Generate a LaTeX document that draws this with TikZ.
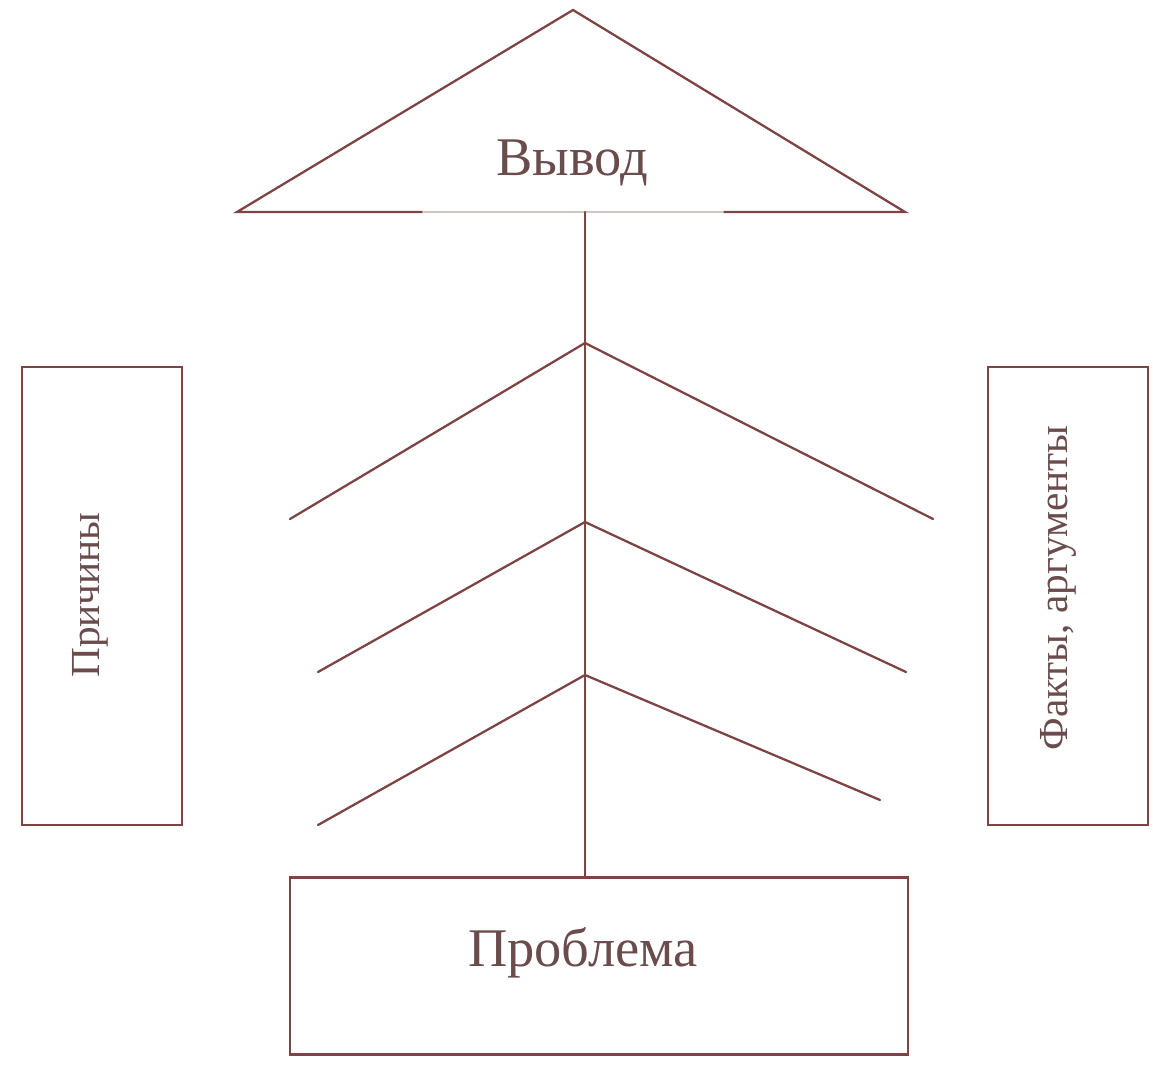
\documentclass[tikz,border=0pt]{standalone}
\usepackage{fontspec}
\setmainfont{Liberation Serif}
\usetikzlibrary{positioning}
\begin{document}
\begin{tikzpicture}[
    x=0.02cm, y=-0.02cm,
    every path/.style={line cap=round},
]
% ── Colours ──
\definecolor{edge}{HTML}{7E4444}
\definecolor{faint}{HTML}{CFC6C6}
\definecolor{textc}{HTML}{6A4C4C}

% ── Styles ──
\tikzset{
    frame/.style={draw=edge, line width=1.3pt, inner sep=0pt},
    label/.style={font=\fontsize{31}{36}\selectfont, text=textc},
    sidelabel/.style={font=\fontsize{23.5}{28}\selectfont, text=textc, rotate=90},
    stroke/.style={draw=edge, line width=1.3pt},
}

\useasboundingbox (0,0) rectangle (1153,1067);

% ── Conclusion triangle ──
\coordinate (apex) at (573,10);
\coordinate (baseL) at (237,212);
\coordinate (baseR) at (905,212);
\coordinate (gapL) at (423,212);
\coordinate (gapR) at (723,212);
\draw[stroke] (gapL) -- (baseL) -- (apex) -- (baseR) -- (gapR);
\draw[faint, line width=1.3pt] (gapL) -- (gapR);
\node[label] (concl) at (572,163) {Вывод};

% ── Boxes ──
\node[frame, minimum width=12.36cm, minimum height=3.54cm] (prob) at (599,966) {};
\node[label] (probtxt) at (583,953) {Проблема};
\node[frame, minimum width=3.2cm, minimum height=9.16cm] (causes) at (102,596) {};
\node[sidelabel] (causestxt) at (90,595) {Причины};
\node[frame, minimum width=3.2cm, minimum height=9.16cm] (facts) at (1068,596) {};
\node[sidelabel] (factstxt) at (1058,588) {Факты, аргументы};

% ── Stem ──
\coordinate (stem) at (585,212);
\draw[stroke] (stem) -- (stem |- prob.north);

% ── Branches ──
\draw[stroke] (290,519) -- (585,343) -- (933,519);
\draw[stroke] (318,672) -- (585,522) -- (906,672);
\draw[stroke] (318,825) -- (585,675) -- (880,800);

\end{tikzpicture}
\end{document}
